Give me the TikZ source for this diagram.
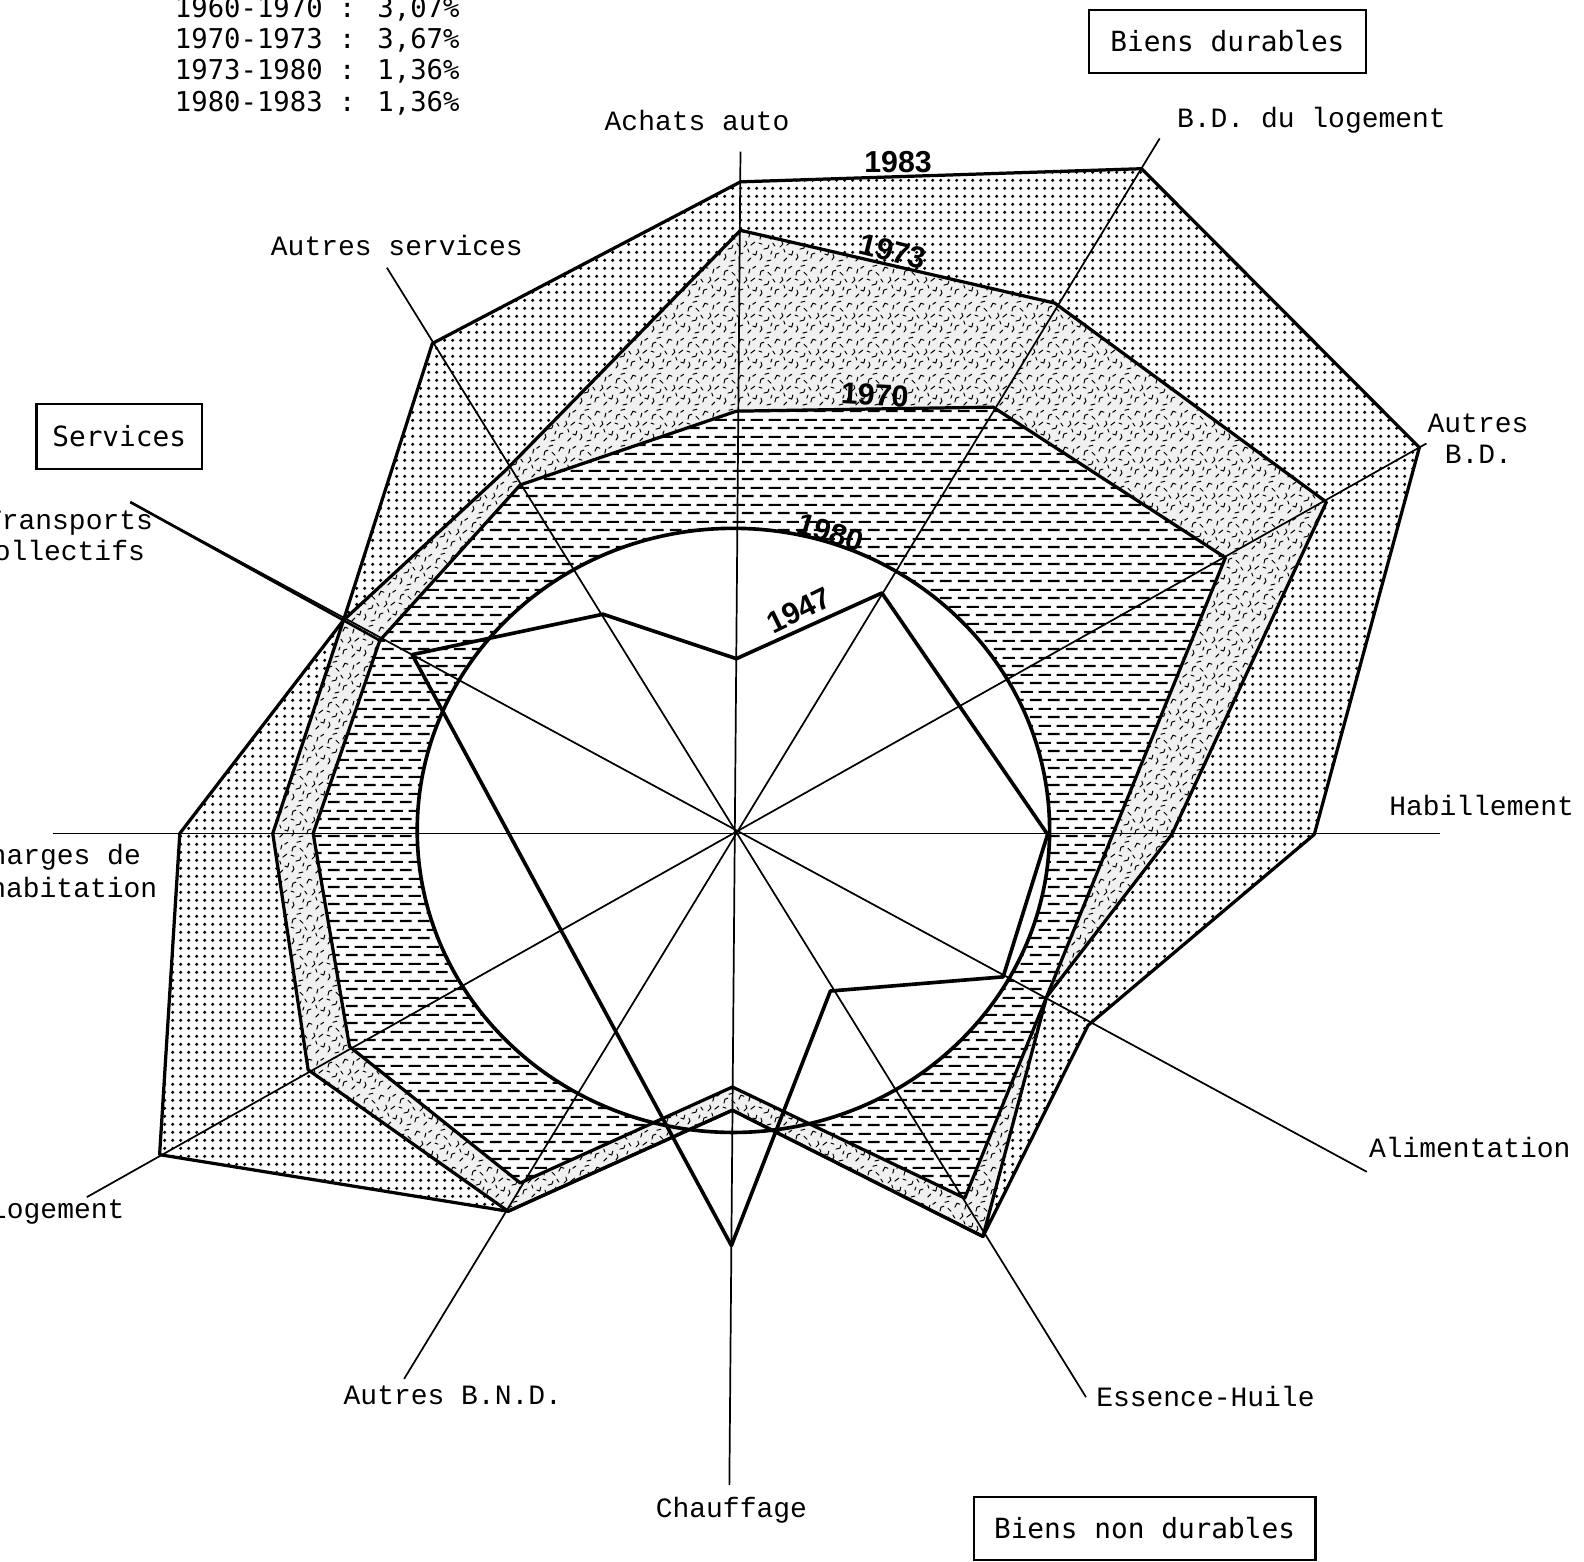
\documentclass[tikz,border=0pt]{standalone}
\usepackage{fontspec}
\setmainfont{Liberation Serif}
\newfontfamily\labfont{Liberation Mono}
\newfontfamily\boxfont{DejaVu Sans Mono}
\newfontfamily\yearfont{Liberation Sans}
\usetikzlibrary{patterns.meta}

\tikzdeclarepattern{
  name=bandDots,
  type=colored,
  bottom left={(0pt,0pt)},
  top right={(7.6pt,7.6pt)},
  tile size={(7.6pt,7.6pt)},
  code={\fill[black] (3.8pt,3.8pt) circle [radius=1.75pt];}
}
\tikzdeclarepattern{
  name=bandDash,
  type=colored,
  bottom left={(0pt,0pt)},
  top right={(18pt,16.4pt)},
  tile size={(18pt,16.4pt)},
  code={\draw[black,line width=2.2pt] (1pt,4.1pt) -- (13pt,4.1pt) (10pt,12.3pt) -- (18pt,12.3pt) (0pt,12.3pt) -- (4pt,12.3pt);}
}
\tikzdeclarepattern{
  name=bandStip,
  type=colored,
  bottom left={(0pt,0pt)},
  top right={(36pt,36pt)},
  tile size={(36pt,36pt)},
  code={
    \fill[black!6] (0pt,0pt) rectangle (36pt,36pt);
    \draw[black,line width=1pt,line cap=round,line join=round]
      (2pt,3pt) -- (4pt,6pt) -- (3pt,9pt)
      (9pt,2pt) -- (13pt,3pt)
      (17pt,5pt) -- (18pt,9pt) -- (21pt,10pt)
      (26pt,2pt) -- (29pt,5pt)
      (31pt,9pt) -- (34pt,8pt) -- (35pt,12pt)
      (6pt,14pt) -- (10pt,15pt) -- (11pt,18pt)
      (15pt,20pt) -- (17pt,17pt)
      (22pt,16pt) -- (25pt,19pt) -- (24pt,22pt)
      (29pt,18pt) -- (33pt,21pt)
      (2pt,24pt) -- (3pt,28pt) -- (6pt,29pt)
      (10pt,27pt) -- (13pt,24pt)
      (17pt,28pt) -- (19pt,32pt) -- (22pt,31pt)
      (27pt,26pt) -- (28pt,30pt)
      (31pt,31pt) -- (34pt,33pt)
      (7pt,33pt) -- (11pt,34pt)
      (13pt,9pt) -- (14pt,12pt)
      (27pt,11pt) -- (26pt,14pt)
      (4pt,19pt) -- (1pt,20pt);
  }
}

\begin{document}
\begin{tikzpicture}[x=1pt,y=-1pt,
  axisline/.style={line width=1.7pt},
  yearline/.style={line width=3.2pt, line join=round},
  oldline/.style={line width=3.6pt, line join=round},
  lab/.style={font=\labfont\fontsize{27.7}{31}\selectfont, inner sep=0pt},
  legendtxt/.style={font=\boxfont\fontsize{27}{31}\selectfont, inner sep=0pt},
  boxed/.style={draw, line width=2.4pt, font=\boxfont\fontsize{27.5}{31}\selectfont, inner sep=0pt},
  yr/.style={font=\yearfont\bfseries\fontsize{30}{34}\selectfont, inner sep=0pt}
]
\useasboundingbox (0,0) rectangle (1568,1546);
\fill[white] (0,0) rectangle (1568,1546);

% axis ends
\coordinate (axA) at (733,150);   \coordinate (axCh) at (722,1470);
\coordinate (axH) at (1425,825);  \coordinate (axCH) at (52,825);
\coordinate (axBDL) at (1148,137);\coordinate (axABND) at (400,1365);
\coordinate (axABD) at (1412,439);\coordinate (axLg) at (86,1185);
\coordinate (axAS) at (383,265);  \coordinate (axEH) at (1075,1383);
\coordinate (axTC) at (129,497);  \coordinate (axAl) at (1353,1160);

% 1983
\coordinate (d1) at (733,180);  \coordinate (d2) at (1130,167);
\coordinate (d3) at (1405,443); \coordinate (d4) at (1301,826);
\coordinate (d5) at (1077,1015);\coordinate (d6) at (973,1224);
\coordinate (d7) at (725,1099); \coordinate (d8) at (503,1199);
\coordinate (d9) at (158,1143); \coordinate (d10) at (178,825);
\coordinate (d11) at (340,614); \coordinate (d12) at (428,340);
% 1973
\coordinate (c1) at (733,228);  \coordinate (c2) at (1044,300);
\coordinate (c3) at (1313,497); \coordinate (c4) at (1160,826);
\coordinate (c5) at (1036,987); \coordinate (c6) at (973,1224);
\coordinate (c7) at (725,1099); \coordinate (c8) at (503,1199);
\coordinate (c9) at (305,1059); \coordinate (c10) at (270,825);
\coordinate (c11) at (340,614); \coordinate (c12) at (500,466);
% 1970
\coordinate (b1) at (729,407);  \coordinate (b2) at (983,403);
\coordinate (b3) at (1213,552); \coordinate (b4) at (955,1186);
\coordinate (b5) at (725,1076); \coordinate (b6) at (515,1171);
\coordinate (b7) at (346,1036); \coordinate (b8) at (310,825);
\coordinate (b9) at (376,634);  \coordinate (b10) at (515,480);
% 1947
\coordinate (a1) at (729,652);  \coordinate (a2) at (873,587);
\coordinate (a3) at (1037,826); \coordinate (a4) at (993,967);
\coordinate (a5) at (822,981);  \coordinate (a6) at (724,1233);
\coordinate (a7) at (408,648);  \coordinate (a8) at (597,608);
% circle centre
\coordinate (ctr) at (726,822);

% bands
\fill[pattern=bandDash] (b1) -- (b2) -- (b3) -- (b4) -- (b5) -- (b6) -- (b7) -- (b8) -- (b9) -- (b10) -- cycle;
\fill[white] (ctr) ellipse [x radius=313, y radius=299];
\fill[pattern=bandStip, even odd rule]
  (b1) -- (b2) -- (b3) -- (b4) -- (b5) -- (b6) -- (b7) -- (b8) -- (b9) -- (b10) -- cycle
  (c1) -- (c2) -- (c3) -- (c4) -- (c5) -- (c6) -- (c7) -- (c8) -- (c9) -- (c10) -- (c11) -- (c12) -- cycle;
\fill[pattern=bandDots, even odd rule]
  (c1) -- (c2) -- (c3) -- (c4) -- (c5) -- (c6) -- (c7) -- (c8) -- (c9) -- (c10) -- (c11) -- (c12) -- cycle
  (d1) -- (d2) -- (d3) -- (d4) -- (d5) -- (d6) -- (d7) -- (d8) -- (d9) -- (d10) -- (d11) -- (d12) -- cycle;

% axes
\draw[axisline] (axA) -- (axCh);
\draw[axisline] (axH) -- (axCH);
\draw[axisline] (axBDL) -- (axABND);
\draw[axisline] (axABD) -- (axLg);
\draw[axisline] (axAS) -- (axEH);
\draw[axisline] (axTC) -- (axAl);
\draw[line width=2.6pt] (axTC) -- (b9);

% year polygons
\draw[yearline] (d1) -- (d2) -- (d3) -- (d4) -- (d5) -- (d6) -- (d7) -- (d8) -- (d9) -- (d10) -- (d11) -- (d12) -- cycle;
\draw[yearline] (c1) -- (c2) -- (c3) -- (c4) -- (c5) -- (c6) -- (c7) -- (c8) -- (c9) -- (c10) -- (c11) -- (c12) -- cycle;
\draw[yearline] (b1) -- (b2) -- (b3) -- (b4) -- (b5) -- (b6) -- (b7) -- (b8) -- (b9) -- (b10) -- cycle;
\draw[oldline] (ctr) ellipse [x radius=313, y radius=299];
\draw[oldline] (a1) -- (a2) -- (a3) -- (a4) -- (a5) -- (a6) -- (a7) -- (a8) -- cycle;

% year labels
\node[yr] (y83) at (889,160) {1983};
\node[yr, rotate=-14] (y73) at (884,249) {1973};
\node[yr, rotate=-3] (y70) at (866,391) {1970};
\node[yr, rotate=-17] (y80) at (822,527) {1980};
\node[yr, rotate=26] (y47) at (791,604) {1947};

% axis labels
\node[lab, anchor=base] (lA) at (690,129) {Achats auto};
\node[lab, anchor=base west] (lBDL) at (1165,126) {B.D. du logement};
\node[lab, anchor=base west] (lABD1) at (1413,428) {Autres};
\node[lab, anchor=base west] (lABD2) at (1430,459) {B.D.};
\node[lab, anchor=base west] (lH) at (1375,807) {Habillement};
\node[lab, anchor=base west] (lAl) at (1355,1146) {Alimentation};
\node[lab, anchor=base west] (lEH) at (1085,1392) {Essence-Huile};
\node[lab, anchor=base] (lCh) at (724,1502) {Chauffage};
\node[lab, anchor=base west] (lABND) at (340,1390) {Autres B.N.D.};
\node[lab, anchor=base west] (lLg) at (-10,1206) {Logement};
\node[lab, anchor=base west] (lCH1) at (-27,856) {Charges de};
\node[lab, anchor=base west] (lCH2) at (-44,888) {l'habitation};
\node[lab, anchor=base west] (lTC1) at (-15,524) {Transports};
\node[lab, anchor=base west] (lTC2) at (-23,555) {collectifs};
\node[lab, anchor=base west] (lAS) at (268,253) {Autres services};

% legend
\node[legendtxt, anchor=base west] (g1) at (173,17) {1960-1970 : 3,07\%};
\node[legendtxt, anchor=base west] (g2) at (173,48) {1970-1973 : 3,67\%};
\node[legendtxt, anchor=base west] (g3) at (173,79) {1973-1980 : 1,36\%};
\node[legendtxt, anchor=base west] (g4) at (173,110) {1980-1983 : 1,36\%};

% category boxes
\node[boxed, minimum width=274pt, minimum height=62pt] (bxBD) at (1215,41) {Biens durables};
\node[boxed, minimum width=164pt, minimum height=64pt] (bxS) at (118,432) {Services};
\node[boxed, minimum width=338pt, minimum height=62pt] (bxBND) at (1133,1513) {Biens non durables};
\end{tikzpicture}
\end{document}
